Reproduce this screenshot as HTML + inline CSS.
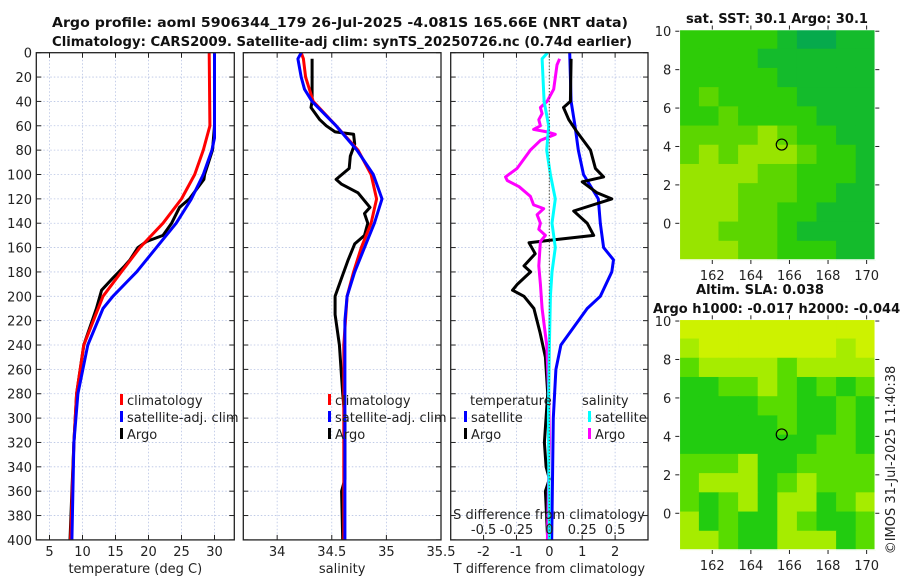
<!DOCTYPE html>
<html><head><meta charset="utf-8">
<style>
html,body{margin:0;padding:0;background:#fff;}
svg{display:block;font-family:"DejaVu Sans","Liberation Sans",sans-serif;}
</style></head>
<body>
<svg id="fig" width="900" height="580" viewBox="0 0 900 580">
<text x="52" y="27" textLength="576" lengthAdjust="spacingAndGlyphs" font-weight="bold" font-size="13" fill="#111">Argo profile: aoml 5906344_179 26-Jul-2025 -4.081S 165.66E (NRT data)</text>
<text x="52" y="46" textLength="580" lengthAdjust="spacingAndGlyphs" font-weight="bold" font-size="13" fill="#111">Climatology: CARS2009. Satellite-adj clim: synTS_20250726.nc (0.74d earlier)</text>
<text x="686" y="23" textLength="182" lengthAdjust="spacingAndGlyphs" font-weight="bold" font-size="13" fill="#111">sat. SST: 30.1 Argo: 30.1</text>
<text x="696" y="294" textLength="128" lengthAdjust="spacingAndGlyphs" font-weight="bold" font-size="13" fill="#111">Altim. SLA: 0.038</text>
<text x="653" y="313" font-weight="bold" font-size="13" fill="#111">Argo h1000: -0.017 h2000: -0.044</text>
<text transform="translate(895,460) rotate(-90)" text-anchor="middle" font-size="13" fill="#222">©IMOS 31-Jul-2025 11:40:38</text>
<g id="g"></g>
</svg>
<script>
// ---- data ----
const depthTicks = [0,20,40,60,80,100,120,140,160,180,200,220,240,260,280,300,320,340,360,380,400];
const tTicks = [5,10,15,20,25,30];
const sTicks = [34,34.5,35,35.5];
const sTickLabels = ["34","34.5","35","35.5"];
const dTTicks = [-2,-1,0,1,2];
const dSTicks = [-0.5,-0.25,0,0.25,0.5];
const dSTickLabels = ["-0.5","-0.25","0","0.25","0.5"];

const climTDepth = [0,60,80,100,120,140,160,180,200,240,280,320,400];
const climTValue = [29.2,29.3,28.3,27.0,25.0,22.2,18.7,15.9,13.1,10.2,9.1,8.7,8.2];
const satTDepth = [0,70,80,100,120,140,160,180,200,210,240,280,320,400];
const satTValue = [30.0,30.0,29.6,28.3,26.5,24.2,21.2,18.2,14.6,13.1,10.8,9.3,8.7,8.4];
const argoTDepth = [5,60,80,100,104,120,127,140,150,155,160,170,175,185,195,210,240,280,320,360,400];
const argoTValue = [30.0,30.0,29.7,28.5,28.4,26.2,24.7,23.5,22.2,19.7,18.4,17.2,16.4,14.6,12.9,12.1,10.2,9.1,8.7,8.4,8.1];

const climSDepth = [0,5,20,40,60,80,100,120,140,160,180,200,240,300,400];
const climSValue = [34.22,34.24,34.26,34.33,34.54,34.74,34.86,34.91,34.86,34.77,34.70,34.64,34.61,34.61,34.61];
const satSDepth = [0,5,20,30,40,60,80,100,120,140,160,180,200,220,400];
const satSValue = [34.22,34.19,34.22,34.25,34.32,34.54,34.73,34.88,34.96,34.89,34.80,34.71,34.64,34.62,34.62];
const argoSDepth = [5,40,45,55,60,65,67,75,85,95,104,108,115,127,132,140,150,157,170,185,200,215,240,280,300,350,360,400];
const argoSValue = [34.32,34.32,34.31,34.39,34.45,34.53,34.70,34.71,34.67,34.66,34.54,34.59,34.74,34.85,34.80,34.83,34.80,34.71,34.65,34.59,34.53,34.53,34.57,34.60,34.62,34.62,34.59,34.60];

const satDTDepth = [0,40,60,80,100,120,140,160,170,180,200,210,240,260,300,400];
const satDTValue = [0.62,0.66,0.78,0.88,1.04,1.49,1.55,1.65,1.95,1.9,1.55,1.15,0.35,0.2,0.12,0.07];
const argoDTDepth = [5,40,45,55,65,80,95,102,106,115,120,130,140,150,154,156,165,175,180,190,195,200,210,230,250,280,320,340,350,360,400];
const argoDTValue = [0.66,0.64,0.43,0.59,0.84,1.25,1.40,1.65,1.0,1.45,1.9,0.74,1.15,1.35,0.02,-0.62,-0.43,-0.77,-0.57,-0.97,-1.12,-0.77,-0.47,-0.28,-0.12,-0.05,-0.15,-0.1,0.0,-0.12,-0.05];
const satDSDepth = [0,5,40,60,80,100,120,140,160,180,200,240,300,400];
const satDSValue = [-0.013,-0.055,-0.04,-0.005,-0.02,0.008,0.045,0.02,0.045,0.02,0.008,0.0,-0.007,0.0];
const argoDSDepth = [5,10,30,40,45,50,55,60,63,65,67,72,80,95,102,105,110,118,125,128,133,140,145,150,155,175,190,210,240,280,320,400];
const argoDSValue = [0.078,0.058,0.033,-0.017,-0.068,-0.055,-0.08,-0.068,-0.12,-0.017,0.045,-0.068,-0.144,-0.245,-0.333,-0.32,-0.23,-0.144,-0.12,-0.043,-0.093,-0.068,-0.08,-0.03,-0.068,-0.08,-0.068,-0.055,-0.02,-0.005,0.0,-0.015];

const mapLonTicks = [162,164,166,168,170];
const mapLatTicks = [0,2,4,6,8,10];
const argoLon = 165.6, argoLat = 4.1;
const sstGrid = [
"cccccdeedd","ccccdddddd","cccccddddd","cbccccdddd","ccbccccddd",
"bbbbabccdd","babaaabccd","aaaabbcccd","aaabbbccdd","aaabbccddd",
"aabbbcdddd","aaabbcccdd"];
const slaGrid = [
"yyyyyyyyyy","lyyyyyyyly","gllllgllll","GGgglgGgGg","GGGGggGGgG",
"GGGGGgGGgG","GGGGGGGggG","gggIGGgggg","glllGglggg","gGglGllGgl",
"lGgGGlgGGg","llgGGlllGg"];
const sstColors = {a:"#98e400",b:"#5cd600",c:"#2ecc08",d:"#14bb2c",e:"#06aa4c"};
const slaColors = {y:"#cdf200",l:"#a6ec00",g:"#58dc00",G:"#22cc10",I:"#a6ec00"};

// ---- drawing ----
const NS="http://www.w3.org/2000/svg";
const root=document.getElementById('g');
function el(tag,attrs,parent){const e=document.createElementNS(NS,tag);for(const k in attrs)e.setAttribute(k,attrs[k]);(parent||root).appendChild(e);return e;}
const Y0=52.7,Y1=539.9;
const yScale=d=>Y0+(Y1-Y0)*d/400;
function lin(d0,d1,r0,r1){return v=>r0+(v-d0)*(r1-r0)/(d1-d0);}

const panels=[
 {name:'temperature',x0:36.3,x1:234.3,sx:lin(3,33,36.3,234.3),ticks:tTicks,labels:tTicks.map(String),title:'temperature (deg C)',ylab:true},
 {name:'salinity',x0:243.3,x1:441,sx:lin(33.69,35.5,243.3,441),ticks:sTicks,labels:sTickLabels,title:'salinity'},
 {name:'difference',x0:450.7,x1:648,sx:lin(-3,3,450.7,648),ticks:dTTicks,labels:dTTicks.map(String),title:'T difference from climatology'}
];
panels.forEach(p=>{
  const g=el('g',{});
  
  
  el('rect',{x:p.x0,y:Y0,width:p.x1-p.x0,height:Y1-Y0,fill:'#fff'},g);
  depthTicks.forEach(d=>{
    const y=yScale(d);
    if(d>0&&d<400){const l=el('line',{x1:p.x0,x2:p.x1,y1:y,y2:y,stroke:'#b8c4e4','stroke-width':0.8,'stroke-dasharray':'1.5,2'},g);
      }
    el('line',{x1:p.x0,x2:p.x0+5,y1:y,y2:y,stroke:'#222','stroke-width':1},g);
    el('line',{x1:p.x1-5,x2:p.x1,y1:y,y2:y,stroke:'#222','stroke-width':1},g);
    if(p.ylab){const t=el('text',{x:32,y:y+5,'text-anchor':'end','font-size':13,fill:'#222'},g);t.textContent=d;
      }
  });
  p.ticks.forEach((v,i)=>{
    const x=p.sx(v);
    const l=el('line',{x1:x,x2:x,y1:Y0,y2:Y1,stroke:'#b8c4e4','stroke-width':0.8,'stroke-dasharray':'1.5,2'},g);
    
    el('line',{x1:x,x2:x,y1:Y1-5,y2:Y1,stroke:'#222'},g);
    el('line',{x1:x,x2:x,y1:Y0,y2:Y0+5,stroke:'#222'},g);
    const t=el('text',{x:x,y:556,'text-anchor':'middle','font-size':13,fill:'#222'},g);t.textContent=p.labels[i];
    
  });
  const tt=el('text',{x:(p.x0+p.x1)/2,y:573,'text-anchor':'middle','font-size':13,fill:'#222'},g);tt.textContent=p.title;
  
  p.g=g;
});
const zl=el('line',{x1:panels[2].sx(0),x2:panels[2].sx(0),y1:Y0,y2:Y1,stroke:'#554',"stroke-width":1.2,'stroke-dasharray':'1.2,2'});


function series(name,depths,vals,sx,color,parent){
  const pts=depths.map((d,i)=>sx(vals[i]).toFixed(1)+','+yScale(d).toFixed(1)).join(' ');
  const pl=el('polyline',{points:pts,fill:'none',stroke:color,'stroke-width':3,'stroke-linejoin':'round'},parent);
  
  
}
const sS=lin(-0.75,0.75,450.7,648);
series('argo-temperature-line',argoTDepth,argoTValue,panels[0].sx,'#000',panels[0].g);
series('climatology-temperature-line',climTDepth,climTValue,panels[0].sx,'#f00',panels[0].g);
series('satellite-temperature-line',satTDepth,satTValue,panels[0].sx,'#00f',panels[0].g);
series('argo-salinity-line',argoSDepth,argoSValue,panels[1].sx,'#000',panels[1].g);
series('climatology-salinity-line',climSDepth,climSValue,panels[1].sx,'#f00',panels[1].g);
series('satellite-salinity-line',satSDepth,satSValue,panels[1].sx,'#00f',panels[1].g);
series('satellite-t-diff-line',satDTDepth,satDTValue,panels[2].sx,'#00f',panels[2].g);
series('argo-t-diff-line',argoDTDepth,argoDTValue,panels[2].sx,'#000',panels[2].g);
series('argo-s-diff-line',argoDSDepth,argoDSValue,sS,'#f0f',panels[2].g);
series('satellite-s-diff-line',satDSDepth,satDSValue,sS,'#0ff',panels[2].g);
panels.forEach(p=>{el('rect',{x:p.x0,y:Y0,width:p.x1-p.x0,height:Y1-Y0,fill:'none',stroke:'#222','stroke-width':1.3},p.g);});

const sdl=el('text',{x:549,y:519,'text-anchor':'middle','font-size':13,fill:'#222'});sdl.textContent='S difference from climatology';

dSTicks.forEach((v,i)=>{
  const t=el('text',{x:sS(v),y:534,'text-anchor':'middle','font-size':13,fill:'#222'});t.textContent=dSTickLabels[i];
  
});

function legend(x,y,color,label){
  const g=el('g',{});
  
  
  el('rect',{x:x,y:y-11,width:3,height:11,fill:color},g);
  const t=el('text',{x:x+7,y:y,'font-size':13,fill:'#222'},g);t.textContent=label;
}
[[120,'#f00','climatology'],[120,'#00f','satellite-adj. clim'],[120,'#000','Argo']].forEach((e,i)=>legend(e[0],405+i*17,e[1],e[2]));
[[328,'#f00','climatology'],[328,'#00f','satellite-adj. clim'],[328,'#000','Argo']].forEach((e,i)=>legend(e[0],405+i*17,e[1],e[2]));
const lt=el('text',{x:470,y:405,'font-size':13,fill:'#222'});lt.textContent='temperature';

const ls=el('text',{x:582,y:405,'font-size':13,fill:'#222'});ls.textContent='salinity';

legend(464,422,'#00f','satellite');legend(464,439,'#000','Argo');
legend(588,422,'#0ff','satellite');legend(588,439,'#f0f','Argo');

function drawMap(name,top,bottom,grid,colors){
  const L=679.3,R=875.3;
  const lonS=lin(160.29,170.45,L,R);
  const latS=lin(10.09,-1.91,top,bottom);
  const g=el('g',{});
  
  
  const rows=grid.length, cols=grid[0].length;
  const cw=(R-L)/cols, ch=(bottom-top)/rows;
  grid.forEach((row,r)=>{for(let c=0;c<cols;c++){
    el('rect',{x:(L+c*cw).toFixed(2),y:(top+r*ch).toFixed(2),width:(cw+0.6).toFixed(2),height:(ch+0.6).toFixed(2),fill:colors[row[c]]},g);
  }});
  el('rect',{x:L,y:top,width:R-L,height:bottom-top,fill:'none',stroke:'#fff','stroke-width':1.5},g);
  mapLonTicks.forEach(v=>{const x=lonS(v);
    el('line',{x1:x,x2:x,y1:bottom,y2:bottom+4,stroke:'#222'},g);
    el('line',{x1:x,x2:x,y1:top-4,y2:top,stroke:'#222'},g);
    const t=el('text',{x:x,y:bottom+20,'text-anchor':'middle','font-size':13,fill:'#222'},g);t.textContent=v;
    });
  mapLatTicks.forEach(v=>{const y=latS(v);
    el('line',{x1:L-4,x2:L,y1:y,y2:y,stroke:'#222'},g);
    el('line',{x1:R,x2:R+4,y1:y,y2:y,stroke:'#222'},g);
    const t=el('text',{x:L-8,y:y+5,'text-anchor':'end','font-size':13,fill:'#222'},g);t.textContent=v;
    });
  const c=el('circle',{cx:lonS(argoLon),cy:latS(argoLat),r:5.5,fill:'none',stroke:'#000','stroke-width':1.2},g);
  
}
drawMap('sst-map',29.5,260,sstGrid,sstColors);
drawMap('sla-map',319.3,550,slaGrid,slaColors);
</script>
</body></html>
